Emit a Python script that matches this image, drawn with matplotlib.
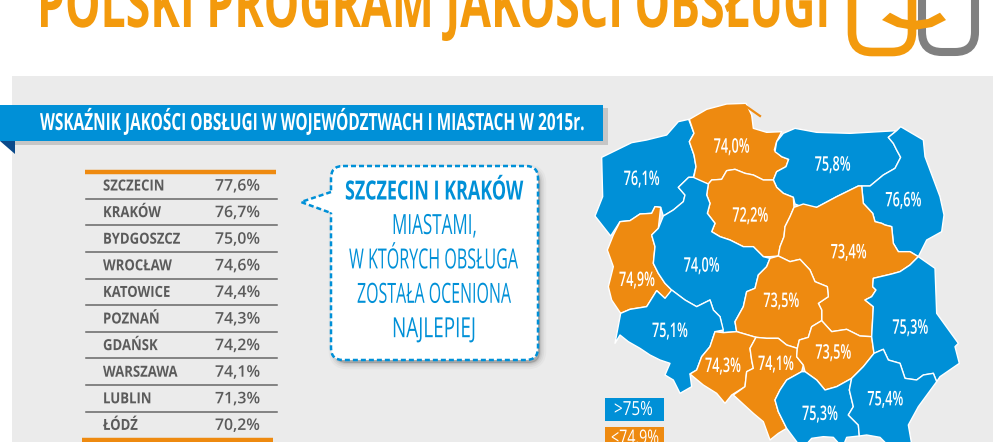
import matplotlib
matplotlib.use("Agg")
import matplotlib.pyplot as plt
from matplotlib.patches import Polygon, Rectangle, FancyBboxPatch
from matplotlib.patheffects import AbstractPathEffect
from matplotlib.transforms import Affine2D

BLUE = "#0090d7"
ORANGE = "#ee8a10"
GRAY_TXT = "#5b5b5b"

# === Dane ===
TITLE = "POLSKI PROGRAM JAKOŚCI OBSŁUGI"
BANNER = "WSKAŹNIK JAKOŚCI OBSŁUGI W WOJEWÓDZTWACH I MIASTACH W 2015r."
cities = ["SZCZECIN", "KRAKÓW", "BYDGOSZCZ", "WROCŁAW", "KATOWICE",
          "POZNAŃ", "GDAŃSK", "WARSZAWA", "LUBLIN", "ŁÓDŹ"]
city_values = ["77,6%", "76,7%", "75,0%", "74,6%", "74,4%",
               "74,3%", "74,2%", "74,1%", "71,3%", "70,2%"]
callout_head = "SZCZECIN I KRAKÓW"
callout_lines = ["MIASTAMI,", "W KTÓRYCH OBSŁUGA", "ZOSTAŁA OCENIONA", "NAJLEPIEJ"]
callout_spans = [(392, 477), (349, 518), (357, 511), (392, 476)]

region_values = ["76,1%", "74,0%", "75,8%", "76,6%", "72,2%", "73,4%", "74,9%", "74,0%",
                 "73,5%", "75,1%", "74,3%", "74,1%", "73,5%", "75,3%", "75,3%", "75,4%"]
region_colors = [BLUE, ORANGE, BLUE, BLUE, ORANGE, ORANGE, ORANGE, BLUE,
                 ORANGE, BLUE, ORANGE, ORANGE, ORANGE, BLUE, BLUE, BLUE]
region_labels_at = [(155, 240), (425, 143), (728, 197), (940, 304), (481, 350), (776, 460),
                    (141, 543), (335, 500), (574, 606), (240, 696), (399, 801), (558, 795),
                    (730, 761), (961, 686), (690, 945), (886, 901)]

# kontury województw (współrzędne z mapy)
zachodniopomorskie = [(296,58),(312,100),(298,125),(312,165),(318,200),(310,232),(296,232),(265,262),(285,285),(280,305),(250,330),(220,348),(212,322),(195,320),(185,340),(150,342),(120,362),(90,365),(62,408),(15,348),(38,290),(35,172),(80,150),(125,128),(170,120),(230,105),(265,65)]
pomorskie = [(298,58),(350,28),(410,12),(468,10),(485,45),(490,85),(530,97),(575,95),(560,125),(553,150),(575,170),(596,178),(588,200),(560,215),(550,240),(520,240),(490,225),(465,220),(435,208),(410,212),(395,238),(365,240),(355,252),(310,238),(318,200),(312,165),(298,125),(312,100)]
warminsko = [(555,155),(560,125),(580,100),(615,85),(680,97),(780,100),(920,92),(895,112),(910,130),(920,150),(932,172),(915,205),(880,225),(840,258),(805,258),(740,290),(680,322),(640,322),(615,312),(610,292),(580,280),(560,262),(550,240),(560,215),(588,200),(596,178),(575,170)]
podlaskie = [(920,92),(932,80),(1000,120),(1005,170),(1050,290),(1062,345),(1055,395),(1010,420),(985,470),(960,455),(925,455),(910,430),(905,380),(885,375),(875,370),(855,365),(848,340),(820,310),(815,258),(840,258),(880,225),(915,205),(932,172),(920,150),(910,130),(895,112)]
kujawsko = [(355,252),(365,240),(395,238),(410,212),(435,208),(465,220),(490,225),(520,240),(550,240),(560,262),(580,280),(610,292),(612,322),(600,350),(585,380),(582,410),(570,440),(565,468),(540,470),(520,470),(490,440),(460,440),(420,420),(390,410),(365,395),(375,370),(352,340),(360,310),(350,285)]
mazowieckie = [(612,322),(640,312),(680,322),(740,290),(805,258),(815,258),(820,310),(848,340),(855,365),(875,370),(885,375),(905,380),(910,430),(925,455),(960,455),(985,470),(960,495),(930,515),(905,522),(850,535),(848,560),(858,570),(845,590),(825,600),(850,620),(845,710),(810,708),(770,688),(725,695),(695,662),(695,630),(685,610),(715,590),(712,560),(675,545),(660,510),(630,478),(600,485),(565,468),(570,440),(582,410),(585,380),(600,350)]
lubuskie = [(90,365),(120,362),(150,342),(185,340),(195,320),(212,322),(205,385),(185,405),(195,440),(190,490),(205,520),(225,550),(245,570),(240,590),(225,595),(200,572),(170,620),(120,628),(92,640),(65,600),(55,560),(70,500),(52,450),(70,405)]
wielkopolskie = [(220,348),(250,330),(280,305),(285,285),(265,262),(296,232),(310,232),(355,252),(350,285),(360,310),(352,340),(375,370),(365,395),(390,410),(420,420),(460,440),(490,440),(520,470),(540,475),(530,500),(505,525),(495,565),(470,575),(460,620),(435,665),(440,695),(400,698),(390,650),(370,630),(360,600),(320,620),(285,600),(245,570),(225,550),(205,520),(190,490),(195,440),(185,405),(205,385)]
lodzkie = [(540,475),(565,468),(600,485),(630,478),(660,510),(675,545),(712,560),(715,590),(685,610),(695,630),(695,662),(665,680),(655,712),(628,720),(622,745),(590,735),(565,715),(530,715),(498,712),(440,695),(435,665),(460,620),(470,575),(495,565),(505,525),(530,500)]
dolnoslaskie = [(92,640),(120,628),(170,620),(200,572),(225,595),(245,570),(285,600),(320,620),(360,600),(370,630),(390,650),(400,690),(375,695),(360,740),(335,770),(320,810),(300,822),(305,860),(270,880),(250,840),(225,825),(240,790),(210,780),(180,765),(150,745),(115,725),(90,705),(75,730)]
opolskie = [(400,698),(440,695),(498,712),(480,745),(485,780),(490,805),(470,815),(465,860),(425,885),(405,910),(380,880),(340,855),(300,822),(320,810),(335,770),(360,740),(375,695)]
slaskie = [(498,712),(530,715),(565,715),(590,735),(622,745),(620,770),(640,795),(635,815),(590,840),(570,870),(555,900),(565,935),(590,985),(565,1000),(540,1020),(520,965),(490,940),(430,885),(465,860),(470,815),(490,805),(485,780),(480,745)]
swietokrzyskie = [(695,662),(725,695),(770,688),(810,708),(845,710),(852,760),(820,800),(785,835),(740,860),(705,870),(680,840),(645,815),(640,795),(620,770),(622,745),(628,720),(655,712),(665,680)]
lubelskie = [(850,535),(905,522),(930,515),(960,495),(985,470),(1035,505),(1040,640),(1105,730),(1095,740),(1108,790),(1050,830),(1040,845),(1030,820),(1000,825),(980,840),(945,835),(930,790),(895,780),(880,748),(852,760),(845,710),(850,620),(825,600),(845,590),(858,570),(848,560)]
malopolskie = [(590,840),(635,815),(645,815),(680,840),(705,870),(740,860),(785,835),(778,870),(790,920),(775,945),(805,975),(808,1008),(770,1012),(762,1032),(748,1032),(730,1012),(700,1010),(665,1015),(650,1032),(625,1032),(590,985),(565,935),(555,900),(570,870)]
podkarpackie = [(785,835),(820,800),(852,760),(880,748),(895,780),(930,790),(945,835),(980,840),(1000,825),(1030,820),(1040,845),(985,920),(955,975),(965,1032),(890,1032),(870,1012),(830,1005),(808,1008),(805,975),(775,945),(790,920),(778,870)]
regions = [zachodniopomorskie, pomorskie, warminsko, podlaskie, kujawsko, mazowieckie, lubuskie,
           wielkopolskie, lodzkie, dolnoslaskie, opolskie, slaskie, swietokrzyskie, lubelskie,
           malopolskie, podkarpackie]


class Squeeze(AbstractPathEffect):
    # zwężenie tekstu w poziomie (brak czcionki wąskiej)
    def __init__(self, sx, x0):
        super().__init__()
        self.sx, self.x0 = sx, x0

    def draw_path(self, renderer, gc, tpath, affine, rgbFace=None):
        t = affine + Affine2D().translate(-self.x0, 0).scale(self.sx, 1).translate(self.x0, 0)
        renderer.draw_path(gc, tpath, t, rgbFace)


def mx(p):
    # przeliczenie punktu mapy na piksele obrazka
    return (590 + p[0] / 3, 100 + p[1] / 3)


def fit_text(x0, x1, y, s, **kw):
    # tekst wciśnięty w zakres x0..x1 (osie są w pikselach)
    xc = (x0 + x1) / 2
    t = ax.text(xc, y, s, ha="center", family="Open Sans", clip_on=False, **kw)
    w = t.get_window_extent(fig.canvas.get_renderer()).width
    t.set_path_effects([Squeeze((x1 - x0) / w, xc)])
    return t


fig = plt.figure(figsize=(10.08, 4.42), dpi=100)
ax = fig.add_axes([0, 0, 1, 1])
ax.set_xlim(0, 1008)
ax.set_ylim(442, 0)
ax.axis("off")

# === Nagłówek ===
fit_text(37, 830, 27, TITLE, color="#f39a0d", fontsize=48, fontweight="bold", va="baseline")

# logo
ax.add_patch(FancyBboxPatch((922, -40), 53, 92, boxstyle="round,pad=0,rounding_size=20", fc="none", ec="#808080", lw=5.8))
ax.add_patch(FancyBboxPatch((852, -40), 60, 92, boxstyle="round,pad=0,rounding_size=20", fc="none", ec="#f39a0d", lw=6.2))
ax.add_patch(Polygon([(882, 20), (890, 12.7), (902, 19), (914, 21), (928, 19), (940, 12.7), (946, 20),
                      (932, 27), (914, 30), (897, 27)], fc="#f39a0d", ec="none"))

# === Tło ===
ax.add_patch(Rectangle((12, 76), 981, 370, fc="#ebebeb", ec="none"))

# wstążka
ax.add_patch(Rectangle((15, 108), 593, 37, fc="#c6c6c6", ec="none"))
ax.add_patch(Polygon([(0, 141), (15, 141), (15, 154)], fc="#0b4a8a", ec="none"))
ax.add_patch(Rectangle((0, 105), 603, 36, fc=BLUE, ec="none"))
fit_text(40, 585, 122.5, BANNER, color="white", fontsize=17, fontweight="bold", va="center")

# === Tabela ===
ax.plot([85, 276], [172, 172], color=ORANGE, lw=3.2, solid_capstyle="butt")
ax.plot([82, 273], [440, 440], color=ORANGE, lw=3.2, solid_capstyle="butt")
for i, (city, val) in enumerate(zip(cities, city_values)):
    y = 186.5 + i * 26.6
    c = ax.text(103, y, city, color=GRAY_TXT, fontsize=11, fontweight="bold", family="Open Sans", va="center")
    c.set_path_effects([Squeeze(0.86, 103)])
    fit_text(215, 260, y, val, color=GRAY_TXT, fontsize=11.5, fontweight="semibold", va="center")
    if i < len(cities) - 1:
        ax.plot([85.5, 277], [186 + i * 26.6 + 12.8] * 2, color="#666666", lw=1.1)

# === Dymek ===
for k, a in [(9, 0.04), (6, 0.06), (3.5, 0.08), (1.5, 0.1)]:
    ax.add_patch(FancyBboxPatch((335, 171), 205, 192, boxstyle="round,pad=0,rounding_size=12",
                                fc="#444444", ec="#444444", lw=k, alpha=a))
ax.add_patch(FancyBboxPatch((331, 166), 207, 194, boxstyle="round,pad=0,rounding_size=12",
                            fc="white", ec=BLUE, lw=1.8, ls=(0, (2, 1.2))))
ax.add_patch(Polygon([(333, 192), (301, 202), (333, 213)], fc="white", ec="none"))
ax.plot([331, 301, 331], [192, 202, 213], color=BLUE, lw=1.8, ls=(0, (2, 1.2)))
fit_text(345, 523, 192, callout_head, color=BLUE, fontsize=19, fontweight="bold", va="center")
for i, (line, span) in enumerate(zip(callout_lines, callout_spans)):
    fit_text(span[0], span[1], 227 + i * 34.4, line, color=BLUE, fontsize=20, va="center")

# === Mapa ===
for pts, col in zip(regions, region_colors):
    ax.add_patch(Polygon([mx(p) for p in pts], closed=True, fc=col, ec="white", lw=1.0, joinstyle="round"))
ax.plot(*zip(mx((470, 20)), mx((510, 48))), color=ORANGE, lw=1.6)
for val, pos in zip(region_values, region_labels_at):
    x, y = mx(pos)
    fit_text(x - 18, x + 18, y, val, color="white", fontsize=14.5, fontweight="semibold", va="center")

# === Legenda ===
ax.add_patch(Rectangle((605, 398), 59, 23, fc=BLUE, ec="none"))
ax.add_patch(Rectangle((605, 427), 59, 23, fc=ORANGE, ec="none"))
fit_text(614, 653, 410, ">75%", color="white", fontsize=14, va="center")
fit_text(611, 659, 439, "<74,9%", color="white", fontsize=14.5, va="center")

fig.savefig("out.png", dpi=100)
